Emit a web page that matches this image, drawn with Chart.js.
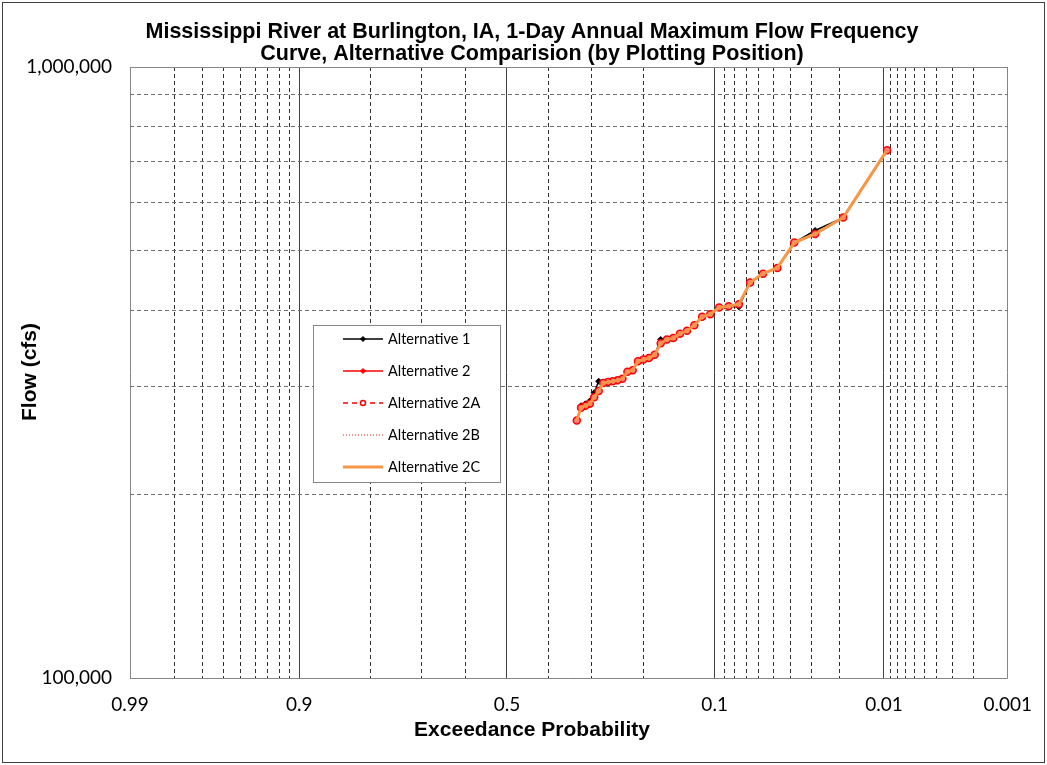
<!DOCTYPE html>
<html>
<head>
<meta charset="utf-8">
<title>Mississippi River at Burlington, IA - Flow Frequency</title>
<script src="https://cdn.jsdelivr.net/npm/chart.js@4.4.1/dist/chart.umd.min.js"></script>
<style>
  html, body { margin: 0; padding: 0; background: #fff; }
  #wrap { width: 1047px; height: 765px; position: relative; }
</style>
</head>
<body>
<div id="wrap"><canvas id="freqChart"></canvas></div>
<script>
// Ranked annual peaks, exceedance probability by plotting position (largest first)
const exceedProb = [
  0.0095, 0.0190, 0.0286, 0.0381, 0.0476, 0.0571, 0.0667, 0.0762, 0.0857, 0.0952,
  0.1048, 0.1143, 0.1238, 0.1333, 0.1429, 0.1524, 0.1619, 0.1714, 0.1810, 0.1905,
  0.2000, 0.2095, 0.2190, 0.2286, 0.2381, 0.2476, 0.2571, 0.2667, 0.2762, 0.2857,
  0.2952, 0.3048, 0.3143, 0.3238, 0.3333
];

// 1-day flows (cfs) for each alternative, same rank order
const alt1Flow = [
  731000, 567000, 540000, 516000, 469000, 459000, 444000, 405000, 406000, 404000,
  394000, 390000, 378000, 370000, 366000, 360000, 358000, 358000, 338000, 334000,
  332000, 330000, 319000, 317000, 309000, 307000, 306000, 305000, 304000, 306000,
  293000, 284000, 281000, 279000, 264000
];
const alt2Flow = [
  731000, 567000, 533000, 516000, 469000, 459000, 444000, 409000, 406000, 404000,
  394000, 390000, 378000, 370000, 366000, 360000, 358000, 353000, 338000, 334000,
  332000, 330000, 319000, 317000, 309000, 307000, 306000, 305000, 304000, 295000,
  288000, 281000, 279000, 277000, 264000
];
const alt2AFlow = [
  731000, 567000, 533000, 516000, 469000, 459000, 444000, 409000, 406000, 404000,
  394000, 390000, 378000, 370000, 366000, 360000, 358000, 353000, 338000, 334000,
  332000, 330000, 319000, 317000, 309000, 307000, 306000, 305000, 304000, 295000,
  288000, 281000, 279000, 277000, 264000
];
const alt2BFlow = [
  731000, 567000, 533000, 516000, 469000, 459000, 444000, 409000, 406000, 404000,
  394000, 390000, 378000, 370000, 366000, 360000, 358000, 353000, 338000, 334000,
  332000, 330000, 319000, 317000, 309000, 307000, 306000, 305000, 304000, 295000,
  288000, 281000, 279000, 277000, 264000
];
const alt2CFlow = [
  731000, 567000, 533000, 516000, 469000, 459000, 444000, 409000, 406000, 404000,
  394000, 390000, 378000, 370000, 366000, 360000, 358000, 353000, 338000, 334000,
  332000, 330000, 319000, 317000, 309000, 307000, 306000, 305000, 304000, 295000,
  288000, 281000, 279000, 277000, 264000
];

// probability axis: gridlines and the labelled ones
const gridProbs = [
  0.99, 0.98, 0.97, 0.96, 0.95, 0.94, 0.93, 0.92, 0.91, 0.9,
  0.8, 0.7, 0.6, 0.5, 0.4, 0.3, 0.2, 0.1,
  0.09, 0.08, 0.07, 0.06, 0.05, 0.04, 0.03, 0.02, 0.01,
  0.009, 0.008, 0.007, 0.006, 0.005, 0.004, 0.003, 0.002, 0.001
];
const majorProbs = [0.99, 0.9, 0.5, 0.1, 0.01, 0.001];

// flow axis
const flowTicks = [100000, 200000, 300000, 400000, 500000, 600000, 700000, 800000, 900000, 1000000];
const flowLabels = ['100,000', '', '', '', '', '', '', '', '', '1,000,000'];

// inverse standard normal CDF (Acklam)
function normInv(p) {
  const a = [-3.969683028665376e+01, 2.209460984245205e+02, -2.759285104469687e+02,
             1.383577518672690e+02, -3.066479806614716e+01, 2.506628277459239e+00];
  const b = [-5.447609879822406e+01, 1.615858368580409e+02, -1.556989798598866e+02,
             6.680131188771972e+01, -1.328068155288572e+01];
  const c = [-7.784894002430293e-03, -3.223964580411365e-01, -2.400758277161838e+00,
             -2.549732539343734e+00, 4.374664141464968e+00, 2.938163982698783e+00];
  const d = [7.784695709041462e-03, 3.224671290700398e-01, 2.445134137142996e+00,
             3.754408661907416e+00];
  const pl = 0.02425;
  let q, r;
  if (p < pl) {
    q = Math.sqrt(-2 * Math.log(p));
    return (((((c[0]*q+c[1])*q+c[2])*q+c[3])*q+c[4])*q+c[5]) / ((((d[0]*q+d[1])*q+d[2])*q+d[3])*q+1);
  }
  if (p <= 1 - pl) {
    q = p - 0.5; r = q * q;
    return (((((a[0]*r+a[1])*r+a[2])*r+a[3])*r+a[4])*r+a[5])*q / (((((b[0]*r+b[1])*r+b[2])*r+b[3])*r+b[4])*r+1);
  }
  q = Math.sqrt(-2 * Math.log(1 - p));
  return -(((((c[0]*q+c[1])*q+c[2])*q+c[3])*q+c[4])*q+c[5]) / ((((d[0]*q+d[1])*q+d[2])*q+d[3])*q+1);
}

// exceedance probability -> position on the normal probability axis
function probX(p) { return normInv(1 - p); }

function toPoints(flows) {
  return exceedProb.map((p, i) => ({ x: probX(p), y: flows[i] }));
}

const tickFont = { family: 'Lato', size: 19 };

// white page with a thin frame
const pageFrame = {
  id: 'pageFrame',
  beforeDraw(chart) {
    const ctx = chart.ctx;
    ctx.save();
    ctx.fillStyle = '#fff';
    ctx.fillRect(0, 0, chart.width, chart.height);
    ctx.strokeStyle = '#404040';
    ctx.lineWidth = 1;
    ctx.strokeRect(2.5, 2.5, chart.width - 5, chart.height - 5);
    ctx.restore();
  }
};

function drawMarker(ctx, ds, x, y) {
  const r = ds.pointRadius;
  ctx.fillStyle = ds.pointBackgroundColor || ds.backgroundColor;
  ctx.strokeStyle = ds.pointBorderColor || ds.borderColor;
  ctx.lineWidth = ds.pointBorderWidth || 1;
  ctx.beginPath();
  if (ds.pointStyle === 'rectRot') {
    ctx.moveTo(x, y - r); ctx.lineTo(x + r, y); ctx.lineTo(x, y + r); ctx.lineTo(x - r, y);
    ctx.closePath();
  } else {
    ctx.arc(x, y, r, 0, Math.PI * 2);
  }
  ctx.fill();
  ctx.stroke();
}

// boxed legend inside the plot
const boxLegend = {
  id: 'boxLegend',
  afterDraw(chart) {
    const ctx = chart.ctx;
    ctx.save();
    ctx.fillStyle = '#fff';
    ctx.fillRect(313.5, 325.5, 187, 157);
    ctx.strokeStyle = '#868686';
    ctx.lineWidth = 1;
    ctx.strokeRect(313.5, 325.5, 187, 157);
    chart.data.datasets.forEach((ds, i) => {
      const y = 339 + i * 32;
      ctx.strokeStyle = ds.borderColor;
      ctx.lineWidth = ds.borderWidth;
      ctx.setLineDash(ds.borderDash || []);
      ctx.beginPath();
      ctx.moveTo(343, y);
      ctx.lineTo(383, y);
      ctx.stroke();
      ctx.setLineDash([]);
      if (ds.pointRadius > 0) {
        drawMarker(ctx, Object.assign({}, ds, { pointRadius: 2.5,
          pointBackgroundColor: ds.pointStyle === 'circle' ? '#fff' : ds.backgroundColor }), 363, y);
      }
      ctx.fillStyle = '#000';
      ctx.font = '14.5px Lato';
      ctx.textAlign = 'left';
      ctx.textBaseline = 'middle';
      ctx.fillText(ds.label, 388, y);
    });
    ctx.restore();
  }
};

// chart and axis titles
const titles = {
  id: 'titles',
  afterDraw(chart) {
    const ctx = chart.ctx;
    ctx.save();
    ctx.fillStyle = '#000';
    ctx.font = 'bold 21.5px "Liberation Sans"';
    ctx.textAlign = 'center';
    ctx.textBaseline = 'alphabetic';
    ctx.fillText('Mississippi River at Burlington, IA, 1-Day Annual Maximum Flow Frequency', 532, 38);
    ctx.fillText('Curve, Alternative Comparision (by Plotting Position)', 532, 60);
    ctx.font = 'bold 21px "Liberation Sans"';
    ctx.textBaseline = 'middle';
    ctx.fillText('Exceedance Probability', 532, 730);
    ctx.translate(30, 372);
    ctx.rotate(-Math.PI / 2);
    ctx.fillText('Flow (cfs)', 0, 0);
    ctx.restore();
  }
};

// lower order is drawn on top: the orange 2C line covers the others,
// the red markers show round its edges
const ctx = document.getElementById('freqChart').getContext('2d');
const freqChart = new Chart(ctx, {
  type: 'line',
  data: {
    datasets: [
      {
        label: 'Alternative 1',
        data: toPoints(alt1Flow),
        borderColor: '#000000',
        backgroundColor: '#000000',
        borderWidth: 1.5,
        pointStyle: 'rectRot',
        pointRadius: 3,
        pointBorderWidth: 1,
        order: 5
      },
      {
        label: 'Alternative 2',
        data: toPoints(alt2Flow),
        borderColor: '#ff0000',
        backgroundColor: '#ff0000',
        borderWidth: 1.5,
        pointStyle: 'rectRot',
        pointRadius: 3,
        pointBorderWidth: 1,
        order: 4
      },
      {
        label: 'Alternative 2A',
        data: toPoints(alt2AFlow),
        borderColor: '#ff0000',
        backgroundColor: '#ff0000',
        borderWidth: 1.5,
        borderDash: [5, 4],
        pointStyle: 'circle',
        pointRadius: 3.5,
        pointBackgroundColor: '#ff8080',
        pointBorderColor: '#ff0000',
        pointBorderWidth: 1.5,
        order: 3
      },
      {
        label: 'Alternative 2B',
        data: toPoints(alt2BFlow),
        borderColor: '#e02020',
        borderWidth: 1,
        borderDash: [1, 2],
        pointRadius: 0,
        order: 2
      },
      {
        label: 'Alternative 2C',
        data: toPoints(alt2CFlow),
        borderColor: '#f79646',
        borderWidth: 3,
        pointRadius: 0,
        order: 1
      }
    ]
  },
  options: {
    responsive: true,
    maintainAspectRatio: false,
    animation: false,
    layout: { padding: { top: 67, right: 35, bottom: 0, left: 0 } },
    elements: { line: { tension: 0 } },
    plugins: {
      legend: { display: false },
      title: { display: false },
      tooltip: { enabled: false }
    },
    scales: {
      x: {
        type: 'linear',
        bounds: 'data',
        min: probX(0.99),
        max: probX(0.001),
        afterBuildTicks: (scale) => {
          scale.ticks = gridProbs.map(p => ({ value: probX(p), prob: p, main: majorProbs.includes(p) }));
        },
        afterFit: (scale) => { scale.height = 87; },
        ticks: {
          autoSkip: false,
          maxRotation: 0,
          padding: 15,
          color: '#000',
          font: tickFont,
          callback: (value, index, ticks) => ticks[index].main ? String(ticks[index].prob) : ''
        },
        grid: {
          drawTicks: false,
          lineWidth: 1,
          color: (c) => {
            if (!c.tick) return '#868686';
            if (c.index === 0 || c.index === gridProbs.length - 1) return '#868686';
            return c.tick.main ? '#404040' : '#303030';
          }
        },
        border: {
          display: false,
          dash: (c) => (c.tick && !c.tick.main) ? [4, 3] : []
        }
      },
      y: {
        type: 'logarithmic',
        min: 100000,
        max: 1000000,
        afterBuildTicks: (scale) => {
          scale.ticks = flowTicks.map(v => ({ value: v }));
        },
        afterFit: (scale) => { scale.width = 130; },
        ticks: {
          autoSkip: false,
          padding: 18,
          color: '#000',
          font: tickFont,
          callback: (value, index) => flowLabels[index]
        },
        grid: {
          drawTicks: false,
          lineWidth: 1,
          color: (c) => {
            if (!c.tick) return '#868686';
            if (c.index === 0 || c.index === flowTicks.length - 1) return '#868686';
            return '#6e6e6e';
          }
        },
        border: {
          display: false,
          dash: (c) => {
            if (!c.tick) return [];
            return (c.index === 0 || c.index === flowTicks.length - 1) ? [] : [4, 3];
          }
        }
      }
    }
  },
  plugins: [pageFrame, boxLegend, titles]
});
</script>
</body>
</html>
